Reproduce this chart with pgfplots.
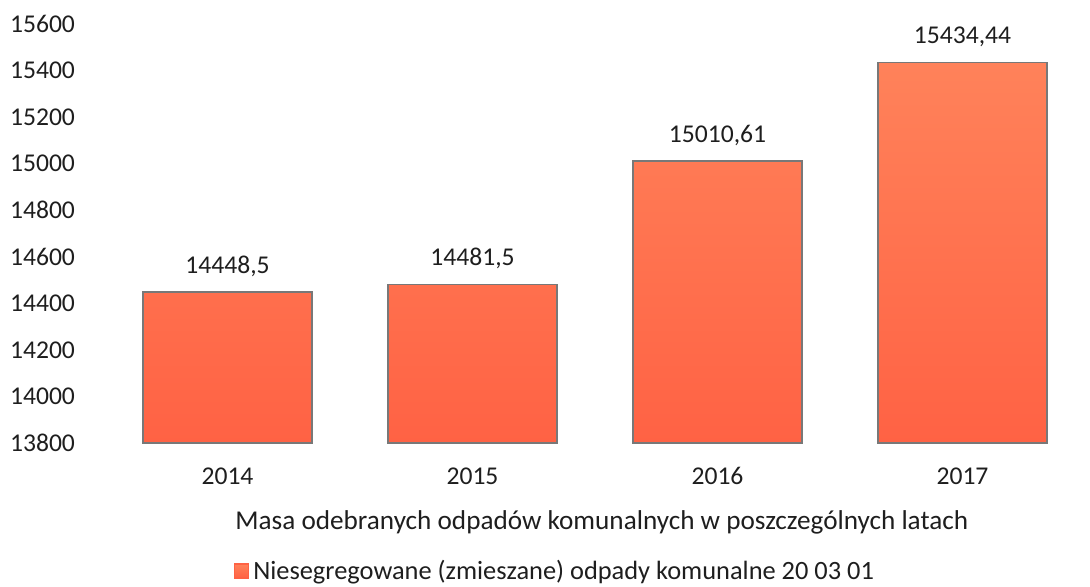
\documentclass[border=0pt]{standalone}
\usepackage{pgfplots}
\pgfplotsset{compat=1.18}
\usepackage{fontspec}
\setmainfont{Carlito}
\definecolor{bartop}{RGB}{255,130,90}
\definecolor{barbot}{RGB}{255,98,68}
\definecolor{baredge}{RGB}{120,120,120}
\definecolor{txt}{RGB}{30,30,30}
\begin{document}
\begin{tikzpicture}
\useasboundingbox (-52.5pt,-72pt) rectangle (492.5pt,221.5pt);
\begin{axis}[
  at={(0pt,0pt)}, anchor=south west,
  scale only axis,
  width=490pt, height=209.5pt,
  xmin=-0.5, xmax=3.5,
  ymin=13800, ymax=15600,
  ytick={13800,14000,...,15600},
  scaled y ticks=false,
  xtick={0,1,2,3},
  xticklabels={2014,2015,2016,2017},
  major tick length=0pt,
  font=\fontsize{12.8}{15}\selectfont,
  /pgf/number format/assume math mode=true,
  /pgf/number format/.cd, 1000 sep={}, fixed, precision=0, /pgfplots/.cd,
  yticklabel style={anchor=west, xshift=-51pt, text=txt},
  xticklabel style={anchor=base, yshift=-20.5pt, text=txt},
  ytick style={draw=none}, xtick style={draw=none},
  axis line style={draw=none},
  clip=false,
  legend style={at={(axis description cs:0.46,0)}, anchor=center, yshift=-64pt,
    draw=none, fill=none, font=\fontsize{13.2}{15}\selectfont, text=txt},
  legend image code/.code={\fill[barbot] (-3pt,-3.5pt) rectangle (4pt,3.5pt);},
]
\addplot[ybar, bar width=0.69, draw=baredge, line width=0.8pt,
  top color=bartop, bottom color=barbot, shading=axis,
  nodes near coords, point meta=explicit symbolic,
  every node near coord/.append style={anchor=base, yshift=9.5pt, text=txt, font=\fontsize{12.8}{15}\selectfont}]
  coordinates {(0,14448.5) [14448,5] (1,14481.5) [14481,5] (2,15010.61) [15010,61] (3,15434.44) [15434,44]};
\addlegendentry{Niesegregowane (zmieszane) odpady komunalne 20 03 01}
\node[text=txt, font=\fontsize{13.6}{15}\selectfont, anchor=base] at ([yshift=-43pt]axis description cs:0.507,0) {Masa odebranych odpadów komunalnych w poszczególnych latach};
\end{axis}
\end{tikzpicture}
\end{document}
